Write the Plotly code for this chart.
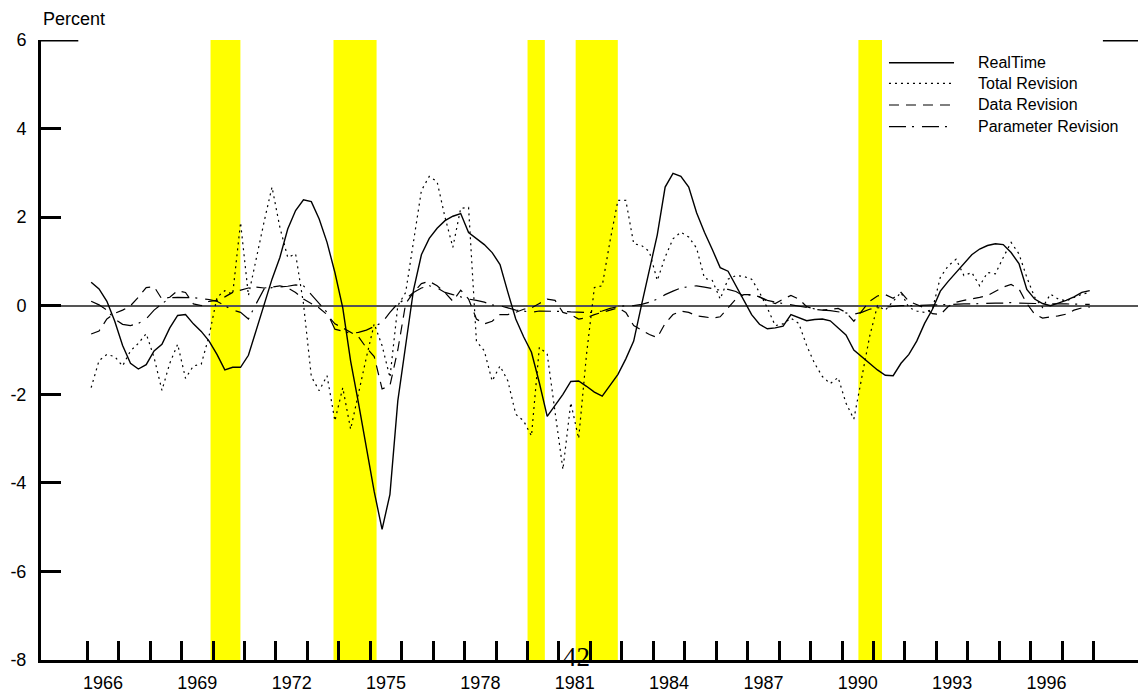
import plotly.graph_objects as go

# ---------------- data (quarterly, 1966Q1 - 1997Q4) ----------------
years = list(range(1966, 1998))
quarter_mid = [0.125, 0.375, 0.625, 0.875]

realtime = [
    0.53, 0.38, 0.10, -0.35,    # 1966
    -0.90, -1.30, -1.43, -1.33,  # 1967
    -1.02, -0.87, -0.50, -0.22,  # 1968
    -0.20, -0.41, -0.58, -0.80,  # 1969
    -1.10, -1.45, -1.39, -1.39,  # 1970
    -1.12, -0.55, 0.05, 0.60,    # 1971
    1.09, 1.73, 2.15, 2.39,      # 1972
    2.35, 1.96, 1.43, 0.75,      # 1973
    -0.05, -1.25, -2.20, -3.25,  # 1974
    -4.20, -5.05, -4.26, -2.15,  # 1975
    -0.90, 0.36, 1.15, 1.52,     # 1976
    1.75, 1.92, 2.02, 2.08,      # 1977
    1.65, 1.52, 1.38, 1.20,      # 1978
    0.93, 0.30, -0.30, -0.70,    # 1979
    -1.05, -1.74, -2.50, -2.25,  # 1980
    -2.00, -1.71, -1.70, -1.82,  # 1981
    -1.95, -2.04, -1.80, -1.55,  # 1982
    -1.20, -0.80, 0.02, 0.83,    # 1983
    1.60, 2.68, 2.99, 2.92,      # 1984
    2.68, 2.10, 1.66, 1.27,      # 1985
    0.86, 0.78, 0.45, 0.15,      # 1986
    -0.20, -0.42, -0.52, -0.50,  # 1987
    -0.46, -0.20, -0.27, -0.34,  # 1988
    -0.31, -0.30, -0.34, -0.50,  # 1989
    -0.66, -1.00, -1.15, -1.32,  # 1990
    -1.45, -1.57, -1.58, -1.30,  # 1991
    -1.10, -0.80, -0.40, -0.08,  # 1992
    0.33, 0.55, 0.75, 0.95,      # 1993
    1.15, 1.28, 1.36, 1.40,      # 1994
    1.38, 1.20, 0.95, 0.37,      # 1995
    0.15, 0.05, 0.00, 0.06,      # 1996
    0.12, 0.20, 0.30, 0.34,      # 1997
]

total_revision = [
    -1.85, -1.24, -1.10, -1.15,  # 1966
    -1.36, -1.02, -0.85, -0.63,  # 1967
    -1.17, -1.91, -1.30, -0.87,  # 1968
    -1.64, -1.36, -1.32, -0.68,  # 1969
    0.19, 0.34, 0.26, 1.88,      # 1970
    0.23, 1.09, 1.90, 2.68,      # 1971
    1.77, 1.09, 1.17, 0.05,      # 1972
    -1.60, -1.92, -1.58, -2.60,  # 1973
    -1.85, -2.79, -1.95, -1.17,  # 1974
    -0.41, -0.90, -1.62, 0.00,   # 1975
    0.30, 1.40, 2.60, 2.92,      # 1976
    2.80, 2.00, 1.32, 2.20,      # 1977
    2.22, -0.80, -1.02, -1.70,   # 1978
    -1.36, -1.70, -2.45, -2.60,  # 1979
    -2.94, -0.94, -1.09, -2.40,  # 1980
    -3.70, -2.19, -3.00, -1.10,  # 1981
    0.41, 0.45, 1.47, 2.38,      # 1982
    2.38, 1.40, 1.36, 1.22,      # 1983
    0.57, 1.10, 1.51, 1.66,      # 1984
    1.55, 1.30, 0.62, 0.57,      # 1985
    0.15, 0.60, 0.68, 0.66,      # 1986
    0.60, 0.30, -0.05, -0.45,    # 1987
    -0.41, -0.28, -0.40, -0.90,  # 1988
    -1.30, -1.60, -1.76, -1.62,  # 1989
    -2.20, -2.56, -1.60, -0.70,  # 1990
    0.00, -0.10, 0.10, 0.30,     # 1991
    -0.04, -0.12, -0.15, -0.08,  # 1992
    0.64, 0.90, 1.05, 0.68,      # 1993
    0.75, 0.45, 0.75, 0.72,      # 1994
    1.09, 1.43, 1.17, 0.64,      # 1995
    0.19, -0.04, 0.26, 0.15,     # 1996
    0.11, 0.19, 0.26, 0.30,      # 1997
]

data_revision = [
    -0.64, -0.57, -0.30, -0.17,  # 1966
    -0.10, 0.00, 0.19, 0.41,     # 1967
    0.43, 0.15, 0.19, 0.34,      # 1968
    0.30, 0.04, 0.00, 0.10,      # 1969
    0.12, 0.20, 0.30, 0.35,      # 1970
    0.40, 0.42, 0.40, 0.42,      # 1971
    0.45, 0.40, 0.30, 0.15,      # 1972
    0.05, -0.05, -0.20, -0.41,   # 1973
    -0.50, -0.60, -0.70, -0.95,  # 1974
    -1.15, -1.88, -1.80, -1.00,  # 1975
    0.05, 0.30, 0.50, 0.55,      # 1976
    0.45, 0.30, 0.10, 0.35,      # 1977
    0.15, -0.30, -0.41, -0.35,   # 1978
    -0.20, -0.20, -0.15, -0.08,  # 1979
    -0.05, 0.05, 0.15, 0.12,     # 1980
    -0.15, -0.20, -0.30, -0.27,  # 1981
    -0.20, -0.15, -0.10, -0.05,  # 1982
    -0.15, -0.45, -0.55, -0.65,  # 1983
    -0.72, -0.40, -0.20, -0.12,  # 1984
    -0.15, -0.23, -0.25, -0.28,  # 1985
    -0.25, -0.05, 0.15, 0.25,    # 1986
    0.25, 0.20, 0.10, 0.05,      # 1987
    0.15, 0.23, 0.15, -0.02,     # 1988
    -0.08, -0.10, -0.08, -0.06,  # 1989
    -0.15, -0.35, -0.12, 0.10,   # 1990
    0.22, 0.25, 0.17, 0.30,      # 1991
    0.10, 0.02, -0.05, -0.18,    # 1992
    -0.20, -0.02, 0.08, 0.12,    # 1993
    0.15, 0.19, 0.23, 0.32,      # 1994
    0.42, 0.48, 0.38, 0.05,      # 1995
    -0.19, -0.28, -0.26, -0.23,  # 1996
    -0.19, -0.10, -0.05, -0.03,  # 1997
]

parameter_revision = [
    0.10, 0.02, -0.10, -0.30,    # 1966
    -0.42, -0.45, -0.40, -0.30,  # 1967
    -0.10, 0.05, 0.18, 0.19,     # 1968
    0.19, 0.18, 0.16, 0.14,      # 1969
    0.10, 0.00, -0.10, -0.15,    # 1970
    -0.30, 0.05, 0.38, 0.41,     # 1971
    0.42, 0.44, 0.47, 0.45,      # 1972
    0.25, 0.05, -0.15, -0.53,    # 1973
    -0.58, -0.62, -0.60, -0.55,  # 1974
    -0.47, -0.38, -0.15, 0.05,   # 1975
    0.15, 0.30, 0.40, 0.45,      # 1976
    0.40, 0.30, 0.25, 0.20,      # 1977
    0.15, 0.12, 0.08, 0.02,      # 1978
    0.00, -0.05, -0.10, -0.12,   # 1979
    -0.15, -0.12, -0.12, -0.13,  # 1980
    -0.13, -0.14, -0.15, -0.15,  # 1981
    -0.15, -0.12, -0.06, -0.02,  # 1982
    0.00, 0.00, 0.03, 0.08,      # 1983
    0.15, 0.25, 0.33, 0.40,      # 1984
    0.43, 0.45, 0.42, 0.38,      # 1985
    0.35, 0.37, 0.32, 0.22,      # 1986
    0.25, 0.20, 0.12, 0.08,      # 1987
    0.05, 0.02, -0.01, -0.04,    # 1988
    -0.07, -0.10, -0.11, -0.14,  # 1989
    -0.17, -0.19, -0.15, -0.08,  # 1990
    -0.05, -0.03, -0.02, 0.00,   # 1991
    0.00, 0.01, 0.02, 0.02,      # 1992
    0.02, 0.03, 0.03, 0.04,      # 1993
    0.04, 0.05, 0.05, 0.06,      # 1994
    0.06, 0.07, 0.06, 0.05,      # 1995
    0.05, 0.05, 0.04, 0.04,      # 1996
    0.04, 0.04, 0.03, 0.03,      # 1997
]

# recession periods (yellow bands)
rec_start = [1969.92, 1973.83, 1980.00, 1981.53, 1990.52]
rec_end = [1970.87, 1975.20, 1980.55, 1982.87, 1991.27]

tick_years = list(range(1966, 1999))
label_years = list(range(1966, 1997, 3))
y_ticks = [-8, -6, -4, -2, 0, 2, 4, 6]
y_tick_text = ["-8", "-6", "-4", "-2", "0", "2", "4", "6"]

series_names = ["RealTime", "Total Revision", "Data Revision", "Parameter Revision"]
series_values = [realtime, total_revision, data_revision, parameter_revision]
series_dash = ["solid", "2px,4px", "10px,7px", "17px,6px,2px,8px"]
series_width = [1.4, 1.2, 1.2, 1.2]

# ---------------- figure ----------------
x = [yr + m for yr in years for m in quarter_mid]
FONT = "Liberation Sans, Arial, Helvetica, sans-serif"

fig = go.Figure()

for s, e in zip(rec_start, rec_end):
    fig.add_vrect(x0=s, x1=e, fillcolor="#FFFF00", opacity=1,
                  line_width=0, layer="below")

for name, vals, dash, w in zip(series_names, series_values, series_dash, series_width):
    fig.add_trace(go.Scatter(
        x=x, y=vals, mode="lines", name=name, showlegend=False,
        line=dict(color="black", width=w, dash=dash),
    ))

# manual legend (long sample lines like the original)
leg_rows_y = [0.9634, 0.9302, 0.8952, 0.8602]
for name, dash, w, yy in zip(series_names, series_dash, series_width, leg_rows_y):
    fig.add_shape(type="line", xref="paper", yref="paper",
                  x0=0.7730, x1=0.8323, y0=yy, y1=yy,
                  line=dict(color="black", width=w, dash=dash))
    fig.add_annotation(xref="paper", yref="paper", x=0.8523, y=yy,
                       xanchor="left", yanchor="middle", text=name,
                       showarrow=False, font=dict(family=FONT, size=16, color="black"))

# long ticks at the top value (6) on both sides
fig.add_shape(type="line", xref="paper", yref="y", x0=0, x1=0.034, y0=6, y1=6,
              line=dict(color="black", width=3))
fig.add_shape(type="line", xref="paper", yref="y", x0=0.968, x1=1.0, y0=6, y1=6,
              line=dict(color="black", width=3))

fig.add_annotation(xref="paper", yref="paper", x=0.0, y=1.034, xanchor="left",
                   yanchor="middle", text="Percent", showarrow=False,
                   font=dict(family=FONT, size=18, color="black"))
fig.add_annotation(xref="paper", yref="paper", x=0.4877, y=0.005, xanchor="center",
                   yanchor="middle", text="42", showarrow=False,
                   font=dict(family="Liberation Serif, Times New Roman, serif", size=27, color="black"))

fig.update_layout(
    width=1138, height=693,
    margin=dict(l=41, r=0, t=40, b=33),
    paper_bgcolor="white", plot_bgcolor="white",
    showlegend=False,
    font=dict(family=FONT, size=18, color="black"),
    xaxis=dict(
        range=[1964.53, 1999.41],
        tickmode="array",
        tickvals=[yr + 0.5 for yr in label_years],
        ticktext=[str(yr) for yr in label_years],
        ticks="",
        ticklabelstandoff=4,
        showline=True, linecolor="black", linewidth=3,
        showgrid=False, zeroline=False,
        tickfont=dict(family=FONT, size=18, color="black"),
        minor=dict(tickmode="array", tickvals=tick_years, ticks="inside",
                   ticklen=19, tickwidth=3, tickcolor="black", showgrid=False),
    ),
    yaxis=dict(
        range=[-8, 6],
        tickmode="array", tickvals=y_ticks, ticktext=y_tick_text,
        ticks="inside", ticklen=20, tickwidth=3, tickcolor="black",
        ticklabelstandoff=8,
        showline=True, linecolor="black", linewidth=3,
        showgrid=False,
        zeroline=True, zerolinecolor="#555555", zerolinewidth=1.5,
        tickfont=dict(family=FONT, size=18, color="black"),
    ),
    yaxis2=dict(
        overlaying="y", side="right", anchor="x",
        range=[-8, 6], tickmode="array", tickvals=y_ticks,
        ticks="inside", ticklen=17, tickwidth=3, tickcolor="black",
        showticklabels=False, showline=False, showgrid=False, zeroline=False,
    ),
)

fig.write_html("out.html")
